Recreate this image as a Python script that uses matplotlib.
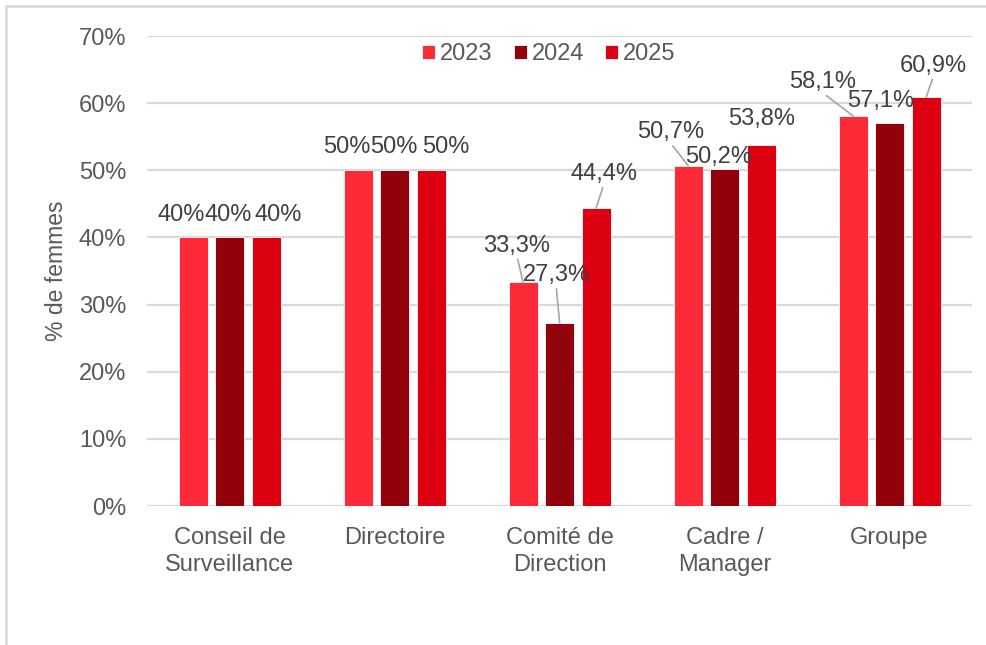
import numpy as np
import matplotlib.pyplot as plt
from matplotlib.lines import Line2D

plt.rcParams['font.family'] = ['Liberation Sans', 'DejaVu Sans']

categories = ['Conseil de\nSurveillance', 'Directoire', 'Comité de\nDirection',
              'Cadre /\nManager', 'Groupe']
years = ['2023', '2024', '2025']
v2023 = [40.0, 50.0, 33.3, 50.7, 58.1]
v2024 = [40.0, 50.0, 27.3, 50.2, 57.1]
v2025 = [40.0, 50.0, 44.4, 53.8, 60.9]
labels2023 = ['40%', '50%', '33,3%', '50,7%', '58,1%']
labels2024 = ['40%', '50%', '27,3%', '50,2%', '57,1%']
labels2025 = ['40%', '50%', '44,4%', '53,8%', '60,9%']

colors = ['#FF2A38', '#920009', '#DC0011']
grey = '#595959'

# where each data label sits (x in category units, baseline y in %),
# and whether it gets a leader line back to its bar
label_xy = [
    [(-0.291, 42.45), (0.712, 52.6), (1.742, 37.9), (2.673, 54.8), (3.594, 62.3)],
    [(-0.006, 42.45), (0.994, 52.6), (1.979, 33.5), (2.964, 51.1), (3.948, 59.4)],
    [(0.297, 42.45), (1.312, 52.6), (2.267, 48.6), (3.221, 56.7), (4.264, 64.7)],
]
leader = [
    [False, False, True, True, True],
    [False, False, True, False, False],
    [False, False, True, False, True],
]

fig = plt.figure(figsize=(9.87, 6.45), dpi=100)
ax = fig.add_axes([0.149, 0.2155, 0.836, 0.7285])

x = np.arange(len(categories))
w = 0.176
step = 0.221
series = [v2023, v2024, v2025]
texts = [labels2023, labels2024, labels2025]

for i, vals in enumerate(series):
    xs = x + (i - 1) * step
    ax.bar(xs, vals, width=w, color=colors[i], edgecolor='#FFFFFF',
           linewidth=0.6, label=years[i], zorder=3)
    for j, v in enumerate(vals):
        tx, ty = label_xy[i][j]
        if leader[i][j]:
            ax.annotate(texts[i][j], xy=(xs[j], v), xytext=(tx, ty),
                        textcoords='data', ha='center', va='baseline',
                        fontsize=17, color='#404040',
                        arrowprops=dict(arrowstyle='-', color='#A6A6A6',
                                        lw=1.2, shrinkA=0, shrinkB=0,
                                        relpos=(0.5, 0.0)),
                        zorder=5)
        else:
            ax.text(tx, ty, texts[i][j], ha='center', va='baseline',
                    fontsize=17, color='#404040', zorder=5)

ax.set_xlim(-0.5, 4.5)
ax.set_ylim(0, 70)
ax.set_yticks(np.arange(0, 71, 10))
ax.set_yticklabels([f'{t}%' for t in range(0, 71, 10)])
ax.set_xticks(x)
ax.set_xticklabels(categories, linespacing=1.3)
ax.tick_params(axis='both', length=0, labelsize=17, labelcolor=grey)
ax.tick_params(axis='y', pad=15)
ax.tick_params(axis='x', pad=15)
ax.grid(axis='y', color='#D9D9D9', linewidth=1.6, zorder=0)
for s in ax.spines.values():
    s.set_visible(False)

ax.set_ylabel('% de femmes', fontsize=16.5, color=grey, labelpad=8)

ax.legend(loc='upper center', bbox_to_anchor=(0.487, 1.03), ncol=3,
          frameon=False, fontsize=17, handlelength=0.55, handleheight=0.55,
          handletextpad=0.2, columnspacing=0.9, labelcolor=grey)

# thin frame around the chart area
fig.add_artist(Line2D([0.006, 0.006], [0, 0.991], color='#D9D9D9', lw=1.8,
                      transform=fig.transFigure))
fig.add_artist(Line2D([0.006, 1.0], [0.991, 0.991], color='#D9D9D9', lw=1.8,
                      transform=fig.transFigure))

fig.savefig('out.png', dpi=100)
